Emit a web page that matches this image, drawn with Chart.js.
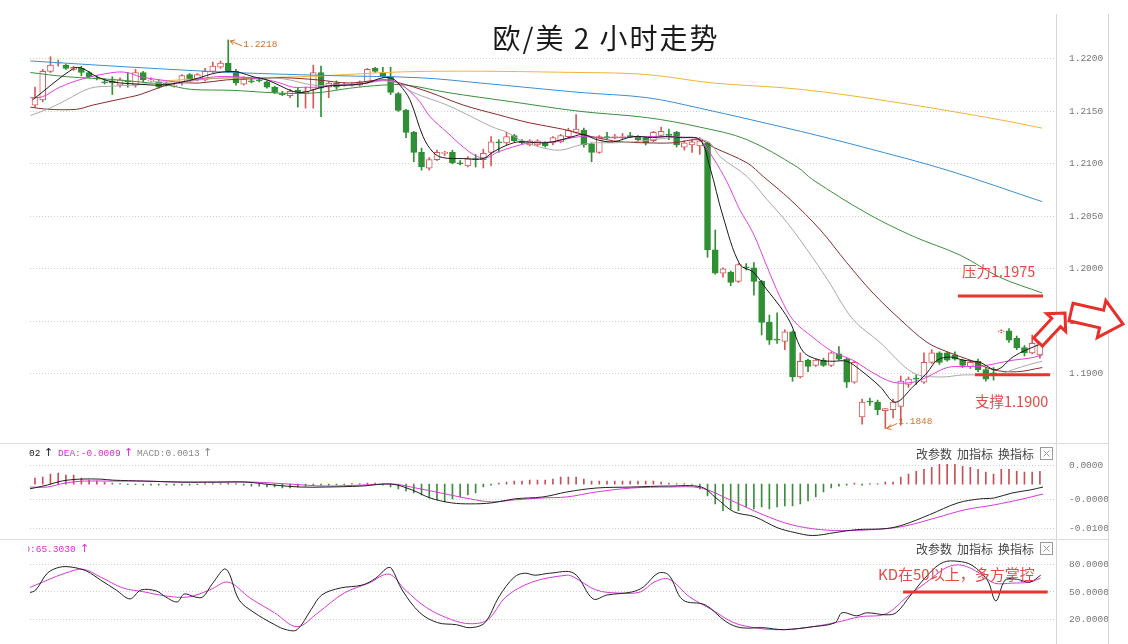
<!DOCTYPE html>
<html>
<head>
<meta charset="utf-8">
<script src="https://cdn.jsdelivr.net/npm/chart.js@4.4.1/dist/chart.umd.min.js"></script>
<style>
  body { margin: 0; background: #fff; width: 1128px; height: 644px; overflow: hidden; position: relative; }
  canvas { position: absolute; left: 0; }
</style>
</head>
<body>
<canvas id="main" width="1128" height="443" style="top:0"></canvas>
<canvas id="macd" width="1128" height="96" style="top:443px"></canvas>
<canvas id="kd" width="1128" height="105" style="top:539px"></canvas>
<script>
// ---- data (2h EUR/USD) ----
var candleOpen = [
  1.2156,1.2161,1.2188,1.2196,1.2194,1.2190,1.2191,1.2187,1.2182,1.2178,
  1.2179,1.2175,1.2179,1.2175,1.2187,1.2179,1.2178,1.2177,1.2174,1.2177,
  1.2185,1.2180,1.2180,1.2188,1.2192,1.2196,1.2188,1.2176,1.2179,1.2180,
  1.2178,1.2173,1.2167,1.2165,1.2170,1.2167,1.2171,1.2187,1.2173,1.2177,
  1.2175,1.2175,1.2175,1.2178,1.2191,1.2187,1.2183,1.2167,1.2151,1.2130,
  1.2111,1.2096,1.2104,1.2110,1.2111,1.2101,1.2098,1.2105,1.2104,1.2111,
  1.2121,1.2120,1.2127,1.2122,1.2118,1.2118,1.2120,1.2120,1.2121,1.2126,
  1.2130,1.2132,1.2119,1.2111,1.2126,1.2125,1.2125,1.2127,1.2126,1.2125,
  1.2122,1.2127,1.2128,1.2130,1.2116,1.2118,1.2117,1.2120,1.2018,1.1996,
  1.1997,1.1988,1.2002,1.2001,1.1988,1.1949,1.1933,1.1931,1.1940,1.1897,
  1.1913,1.1908,1.1913,1.1908,1.1919,1.1914,1.1892,1.1859,1.1874,1.1873,
  1.1865,1.1866,1.1869,1.1890,1.1896,1.1892,1.1911,1.1920,1.1920,1.1918,
  1.1913,1.1907,1.1912,1.1904,1.1901,1.1940,1.1941,1.1934,1.1925,1.1920,1.1918
];
var candleHigh = [
  1.2173,1.2190,1.2202,1.2199,1.2195,1.2193,1.2193,1.2188,1.2184,1.2181,
  1.2183,1.2182,1.2187,1.2190,1.2188,1.2182,1.2180,1.2178,1.2177,1.2185,
  1.2186,1.2186,1.2191,1.2197,1.2198,1.2218,1.2190,1.2183,1.2181,1.2182,
  1.2179,1.2174,1.2169,1.2171,1.2172,1.2173,1.2194,1.2193,1.2178,1.2179,
  1.2177,1.2177,1.2179,1.2191,1.2192,1.2192,1.2192,1.2168,1.2152,1.2131,
  1.2115,1.2106,1.2113,1.2112,1.2113,1.2103,1.2107,1.2109,1.2114,1.2126,
  1.2123,1.2130,1.2128,1.2123,1.2123,1.2123,1.2121,1.2126,1.2128,1.2134,
  1.2147,1.2134,1.2120,1.2127,1.2130,1.2128,1.2129,1.2130,1.2127,1.2126,
  1.2131,1.2135,1.2133,1.2131,1.2122,1.2123,1.2125,1.2121,1.2037,1.2001,
  1.1998,1.2005,1.2005,1.2006,1.1989,1.1956,1.1958,1.1942,1.1941,1.1920,
  1.1914,1.1914,1.1915,1.1921,1.1926,1.1915,1.1912,1.1876,1.1877,1.1875,
  1.1867,1.1876,1.1898,1.1897,1.1899,1.1920,1.1923,1.1921,1.1921,1.1921,
  1.1914,1.1913,1.1914,1.1906,1.1906,1.1942,1.1943,1.1936,1.1927,1.1937,1.1937
];
var candleLow = [
  1.2154,1.2159,1.2187,1.2193,1.2190,1.2189,1.2184,1.2182,1.2180,1.2176,
  1.2166,1.2173,1.2173,1.2173,1.2178,1.2178,1.2172,1.2174,1.2173,1.2175,
  1.2180,1.2179,1.2179,1.2187,1.2191,1.2187,1.2175,1.2175,1.2177,1.2178,
  1.2172,1.2167,1.2165,1.2163,1.2154,1.2153,1.2153,1.2145,1.2163,1.2171,
  1.2174,1.2174,1.2174,1.2177,1.2187,1.2182,1.2166,1.2150,1.2125,1.2102,
  1.2094,1.2094,1.2103,1.2108,1.2100,1.2099,1.2097,1.2097,1.2096,1.2098,
  1.2111,1.2118,1.2121,1.2119,1.2117,1.2117,1.2116,1.2118,1.2120,1.2125,
  1.2129,1.2116,1.2102,1.2110,1.2124,1.2124,1.2124,1.2125,1.2122,1.2118,
  1.2121,1.2126,1.2123,1.2116,1.2113,1.2111,1.2109,1.2011,1.1995,1.1992,
  1.1984,1.1987,1.1999,1.1975,1.1937,1.1928,1.1929,1.1923,1.1893,1.1896,
  1.1902,1.1907,1.1907,1.1907,1.1913,1.1887,1.1891,1.1852,1.1870,1.1861,
  1.1848,1.1858,1.1851,1.1887,1.1890,1.1891,1.1910,1.1909,1.1912,1.1913,
  1.1906,1.1905,1.1902,1.1893,1.1894,1.1939,1.1930,1.1923,1.1917,1.1919,1.1915
];
var candleClose = [
  1.2163,1.2188,1.2194,1.2197,1.2191,1.2192,1.2187,1.2183,1.2181,1.2177,
  1.2177,1.2180,1.2178,1.2187,1.2180,1.2180,1.2173,1.2175,1.2175,1.2184,
  1.2181,1.2185,1.2188,1.2193,1.2196,1.2188,1.2177,1.2181,1.2178,1.2179,
  1.2173,1.2168,1.2166,1.2169,1.2168,1.2169,1.2187,1.2172,1.2177,1.2173,
  1.2176,1.2176,1.2178,1.2190,1.2188,1.2183,1.2168,1.2151,1.2130,1.2111,
  1.2097,1.2104,1.2111,1.2111,1.2101,1.2100,1.2105,1.2104,1.2110,1.2121,
  1.2120,1.2126,1.2122,1.2120,1.2122,1.2122,1.2117,1.2125,1.2127,1.2132,
  1.2133,1.2118,1.2111,1.2126,1.2125,1.2126,1.2126,1.2126,1.2123,1.2120,
  1.2130,1.2131,1.2127,1.2118,1.2120,1.2121,1.2122,1.2018,1.1996,1.2000,
  1.1987,1.2004,1.2001,1.1988,1.1949,1.1932,1.1932,1.1940,1.1897,1.1912,
  1.1907,1.1913,1.1908,1.1920,1.1914,1.1892,1.1911,1.1873,1.1873,1.1866,
  1.1867,1.1873,1.1893,1.1895,1.1895,1.1911,1.1920,1.1911,1.1913,1.1914,
  1.1908,1.1911,1.1904,1.1895,1.1900,1.1941,1.1932,1.1925,1.1920,1.1929,1.1932
];

// moving averages as [bar index, price]
var maBlack = [[-0.3,1.2161],[5.0,1.2191],[6.1,1.2191],[8.0,1.2183],[10.1,1.2178],[13.2,1.2176],[16.2,1.2175],[18.4,1.2177],[21.3,1.2182],[23.0,1.2186],[25.2,1.2188],[26.5,1.2187],[28.2,1.2183],[30.0,1.2180],[32.1,1.2173],[33.4,1.2169],[34.7,1.2168],[36.2,1.2171],[37.8,1.2174],[40.4,1.2175],[42.9,1.2177],[45.0,1.2182],[46.3,1.2181],[47.2,1.2175],[48.5,1.2161],[50.2,1.2126],[51.5,1.2111],[52.7,1.2106],[55.4,1.2105],[58.0,1.2105],[59.2,1.2111],[61.1,1.2118],[62.7,1.2121],[65.3,1.2120],[67.0,1.2121],[69.6,1.2126],[70.9,1.2128],[72.7,1.2123],[74.8,1.2121],[77.4,1.2126],[79.9,1.2125],[81.8,1.2126],[83.4,1.2125],[86.0,1.2123],[87.3,1.2097],[89.0,1.2050],[91.2,1.2004],[92.9,1.1997],[94.7,1.1980],[96.4,1.1964],[97.7,1.1949],[99.4,1.1921],[101.6,1.1913],[103.2,1.1912],[105.0,1.1912],[106.7,1.1904],[109.3,1.1888],[111.3,1.1873],[113.6,1.1888],[115.4,1.1901],[116.7,1.1913],[118.4,1.1916],[120.1,1.1913],[122.2,1.1911],[124.4,1.1904],[126.5,1.1916],[128.3,1.1923],[130.3,1.1929]];
var maMagenta = [[-0.6,1.2163],[1.0,1.2164],[3.2,1.2173],[6.2,1.2181],[10.1,1.2187],[11.9,1.2187],[13.6,1.2183],[16.2,1.2180],[18.8,1.2178],[21.3,1.2181],[23.5,1.2183],[25.6,1.2183],[27.8,1.2182],[30.0,1.2180],[31.7,1.2177],[33.4,1.2173],[35.2,1.2173],[36.9,1.2173],[38.6,1.2175],[41.1,1.2175],[42.9,1.2177],[45.0,1.2180],[46.8,1.2178],[48.5,1.2169],[49.8,1.2159],[51.1,1.2145],[53.3,1.2130],[55.4,1.2116],[57.2,1.2107],[58.5,1.2106],[59.8,1.2111],[61.8,1.2116],[64.0,1.2120],[67.0,1.2121],[69.6,1.2125],[70.9,1.2126],[73.1,1.2125],[75.7,1.2125],[79.2,1.2126],[81.8,1.2126],[84.3,1.2125],[86.0,1.2123],[87.7,1.2106],[89.5,1.2083],[91.2,1.2056],[92.9,1.2034],[94.7,1.2002],[96.4,1.1973],[98.1,1.1951],[100.6,1.1935],[103.2,1.1921],[105.8,1.1913],[108.4,1.1901],[111.0,1.1892],[113.6,1.1892],[115.4,1.1897],[118.0,1.1906],[120.1,1.1907],[122.2,1.1907],[124.4,1.1910],[126.5,1.1913],[128.7,1.1915],[130.3,1.1918]];
var maGray = [[-0.6,1.2146],[1.9,1.2153],[4.1,1.2161],[7.1,1.2172],[10.1,1.2174],[12.7,1.2175],[15.8,1.2177],[18.8,1.2177],[21.3,1.2180],[24.8,1.2182],[28.2,1.2182],[32.1,1.2181],[36.0,1.2175],[38.6,1.2175],[42.9,1.2177],[45.0,1.2179],[46.8,1.2177],[48.9,1.2168],[53.3,1.2156],[56.7,1.2144],[59.2,1.2135],[61.1,1.2130],[62.7,1.2123],[65.3,1.2116],[67.9,1.2113],[70.5,1.2118],[72.2,1.2120],[74.8,1.2120],[77.4,1.2121],[79.9,1.2123],[82.5,1.2125],[85.1,1.2125],[87.3,1.2120],[88.6,1.2107],[92.1,1.2088],[94.7,1.2066],[97.3,1.2044],[99.9,1.2018],[102.5,1.1990],[105.8,1.1952],[109.3,1.1930],[113.6,1.1901],[117.1,1.1897],[120.1,1.1899],[124.4,1.1899],[126.5,1.1904],[128.7,1.1909],[130.3,1.1912]];
var maMaroon = [[-0.6,1.2154],[1.6,1.2152],[5.4,1.2152],[7.5,1.2156],[10.6,1.2161],[13.6,1.2166],[16.2,1.2173],[18.4,1.2177],[21.3,1.2177],[24.8,1.2180],[28.2,1.2181],[32.1,1.2182],[36.5,1.2180],[40.7,1.2177],[45.0,1.2180],[47.2,1.2177],[51.1,1.2168],[55.4,1.2156],[59.8,1.2147],[64.0,1.2139],[68.3,1.2133],[71.4,1.2127],[74.0,1.2123],[75.7,1.2121],[79.2,1.2120],[82.5,1.2120],[86.0,1.2123],[87.7,1.2116],[92.1,1.2101],[94.2,1.2088],[97.7,1.2066],[101.6,1.2037],[105.0,1.2006],[108.4,1.1977],[111.9,1.1952],[115.4,1.1930],[118.0,1.1921],[121.0,1.1913],[123.9,1.1904],[127.0,1.1902],[130.3,1.1906]];
var maGreen = [[-0.6,1.2187],[4.1,1.2183],[10.6,1.2180],[17.1,1.2175],[20.1,1.2171],[25.6,1.2170],[30.0,1.2168],[33.4,1.2167],[36.9,1.2168],[40.7,1.2172],[45.0,1.2175],[48.1,1.2175],[53.3,1.2168],[61.8,1.2159],[70.5,1.2150],[79.2,1.2144],[86.0,1.2135],[92.1,1.2123],[98.6,1.2097],[100.6,1.2085],[107.6,1.2053],[113.6,1.2031],[119.7,1.2013],[124.8,1.1992],[130.3,1.1977]];
var maBlue = [[-0.6,1.2198],[12.7,1.2192],[25.6,1.2187],[38.6,1.2184],[49.8,1.2182],[57.6,1.2177],[70.5,1.2168],[79.2,1.2163],[86.0,1.2153],[99.0,1.2131],[107.1,1.2116],[118.0,1.2094],[130.3,1.2064]];
var maOrange = [[14.9,1.2178],[21.3,1.2181],[34.3,1.2183],[49.8,1.2188],[70.5,1.2187],[79.2,1.2185],[87.7,1.2177],[99.0,1.2171],[111.9,1.2158],[124.8,1.2142],[130.3,1.2134]];

var priceTicks = [1.1900, 1.1950, 1.2000, 1.2050, 1.2100, 1.2150, 1.2200];
var pressureLevel = 1.1975;
var supportLevel = 1.1900;

// MACD panel
var macdHist = [
  0.0012,0.0014,0.0020,0.0022,0.0018,0.0018,0.0012,0.0008,0.0006,0.0004,0.0002,
  0.0001,-0.0001,-0.0001,-0.0002,-0.0002,-0.0002,-0.0002,-0.0002,-0.0002,-0.0002,
  -0.0001,0.0001,0.0001,0.0001,0.0002,0.0001,-0.0002,-0.0004,-0.0004,-0.0006,
  -0.0006,-0.0008,-0.0008,-0.0006,-0.0004,-0.0002,-0.0002,-0.0002,-0.0001,-0.0001,
  0.0001,0.0001,0.0002,0.0002,-0.0002,-0.0006,-0.0010,-0.0014,
  -0.0018,-0.0022,-0.0028,-0.0032,-0.0036,-0.0030,-0.0026,-0.0022,-0.0018,-0.0006,-0.0002,
  0.0002,0.0004,0.0006,0.0006,0.0008,0.0008,0.0008,0.0010,
  0.0014,0.0014,0.0014,0.0010,0.0006,0.0006,0.0006,0.0006,0.0006,0.0006,0.0006,0.0006,0.0006,0.0004,0.0002,0.0001,0.0001,0,
  -0.0010,-0.0024,-0.0040,-0.0054,-0.0050,-0.0054,-0.0046,-0.0050,-0.0046,-0.0050,-0.0046,-0.0044,-0.0044,-0.0040,-0.0034,-0.0026,-0.0016,-0.0008,-0.0004,-0.0002,0.0002,-0.0002,0.0001,
  0.0001,0.0004,0.0004,0.0014,0.0020,0.0026,0.0030,0.0034,0.0040,0.0040,0.0040,0.0036,0.0034,0.0030,0.0024,0.0020,0.0030,0.0030,0.0026,0.0024,0.0024,0.0026
];
var macdDif = [[-0.8,-0.0010],[1.6,-0.0002],[3.4,0.0006],[5.8,0.0010],[8.5,0.0010],[10.0,0.0008],[14.2,0.0006],[18.9,0.0004],[23.5,0.0004],[27.3,0.0004],[31.0,-0.0002],[34.3,-0.0006],[37.6,-0.0006],[42.3,-0.0004],[46.1,0.0000],[48.8,-0.0012],[51.1,-0.0028],[53.9,-0.0038],[56.3,-0.0040],[59.1,-0.0038],[62.0,-0.0030],[65.7,-0.0026],[68.8,-0.0016],[72.6,-0.0008],[77.2,-0.0006],[82.0,-0.0004],[86.2,-0.0006],[88.1,-0.0028],[90.4,-0.0056],[93.1,-0.0066],[96.0,-0.0088],[98.3,-0.0098],[100.6,-0.0104],[103.5,-0.0098],[106.3,-0.0092],[110.1,-0.0090],[112.4,-0.0082],[115.7,-0.0062],[119.4,-0.0038],[122.2,-0.0030],[124.1,-0.0028],[126.4,-0.0018],[128.7,-0.0012],[130.4,-0.0006]];
var macdDea = [[-0.8,-0.0006],[1.6,-0.0006],[3.9,0.0002],[6.2,0.0006],[9.6,0.0006],[14.2,0.0006],[18.9,0.0004],[23.5,0.0004],[28.2,0.0004],[32.9,0.0000],[37.6,-0.0004],[42.3,-0.0002],[46.4,0.0000],[49.3,-0.0008],[52.5,-0.0018],[56.3,-0.0030],[59.1,-0.0036],[62.0,-0.0032],[65.7,-0.0028],[68.8,-0.0026],[72.6,-0.0016],[77.2,-0.0008],[82.0,-0.0006],[86.2,-0.0008],[89.9,-0.0032],[94.2,-0.0062],[97.8,-0.0082],[101.6,-0.0092],[105.3,-0.0094],[110.1,-0.0090],[112.8,-0.0084],[116.6,-0.0068],[120.3,-0.0052],[124.1,-0.0042],[127.8,-0.0030],[130.4,-0.0020]];
var macdTickValues = [0.0038, -0.0032, -0.0090];
var macdTickLabels = ['0.0000', '-0.0000', '-0.0100'];

// KD panel
var kdK = [[-0.8,48.9],[0.1,52.2],[1.6,70.7],[3.2,77.3],[4.8,77.3],[6.7,72.9],[8.5,63.1],[10.5,52.2],[12.3,42.4],[13.7,52.2],[15.7,51.1],[16.9,44.5],[18.4,39.1],[19.3,47.8],[20.7,44.5],[21.7,44.5],[23.0,59.8],[24.7,75.1],[26.4,41.3],[28.2,28.2],[31.0,14.0],[32.5,8.5],[33.9,8.5],[35.7,30.4],[37.1,46.7],[39.5,54.4],[42.3,57.6],[44.1,65.3],[45.5,76.2],[46.1,76.2],[47.5,52.2],[49.8,27.1],[52.1,16.2],[54.5,14.0],[56.3,10.7],[58.2,16.2],[60.0,44.5],[62.0,66.4],[63.3,70.7],[64.7,68.5],[66.6,70.7],[69.7,70.7],[72.2,42.4],[74.0,46.7],[77.2,50.0],[78.7,55.5],[80.6,70.7],[82.0,68.5],[83.8,41.3],[86.7,35.8],[89.4,17.3],[91.3,10.7],[94.2,10.7],[96.9,8.5],[100.6,11.8],[103.5,16.2],[104.4,27.1],[106.3,23.8],[107.6,27.1],[110.1,24.9],[111.4,27.1],[113.3,46.7],[115.7,70.7],[117.5,82.7],[119.4,83.8],[121.2,79.5],[123.2,63.1],[124.3,40.2],[125.5,63.1],[126.9,64.2],[128.7,60.9],[130.1,68.5]];
var kdD = [[-0.8,54.4],[1.6,63.1],[3.9,70.7],[6.2,75.1],[8.5,66.4],[11.4,54.4],[14.2,50.0],[16.9,45.6],[19.8,44.5],[22.6,52.2],[25.0,60.9],[27.8,43.5],[31.0,27.1],[33.9,11.8],[36.6,27.1],[40.0,48.9],[43.2,59.8],[45.8,69.6],[47.9,52.2],[50.7,32.5],[53.9,19.5],[56.3,15.1],[58.6,19.5],[60.9,44.5],[64.3,60.9],[68.8,68.5],[69.7,66.4],[72.6,52.2],[75.4,48.9],[78.3,50.0],[80.1,60.9],[82.0,64.2],[84.7,44.5],[87.6,30.4],[90.4,16.2],[93.1,10.7],[96.0,8.5],[99.7,10.7],[103.5,16.2],[106.7,22.7],[110.1,26.0],[112.8,44.5],[115.7,63.1],[118.0,77.3],[119.9,79.5],[122.2,70.7],[124.1,59.8],[126.4,59.8],[128.7,60.9],[130.1,65.3]];
var kdTickValues = [80, 50, 20];

// ---- styles ----
var RED = '#d65a5a', GREEN = '#2f8f34';
var MONO = '"Liberation Mono", "DejaVu Sans Mono", monospace';
var CJK = '"Noto Sans CJK SC", sans-serif';
var X_MIN = -0.647, X_MAX = 132.08;

function pts(arr) {
  return arr.map(function (p) { return { x: p[0], y: p[1] }; });
}
function lineSet(arr, color, order) {
  return { type: 'line', data: pts(arr), borderColor: color, borderWidth: 1,
           pointRadius: 0, tension: 0.35, order: order || 0 };
}
function rightAxis(extra) {
  var ax = {
    position: 'right',
    grid: { color: '#cfcfcf', lineWidth: 1, drawTicks: false },
    border: { display: false, dash: [1, 2] },
    ticks: { color: '#777', padding: 13, font: { family: MONO, size: 9.5 } },
    afterFit: function (s) { s.width = 72; s.paddingTop = 0; s.paddingBottom = 0; }
  };
  return Object.assign(ax, extra);
}
function xAxis() {
  return { type: 'linear', min: X_MIN, max: X_MAX, offset: false, display: false };
}
function frameLines(ctx, h, top) {
  ctx.strokeStyle = '#d6d6d6';
  ctx.lineWidth = 1;
  ctx.beginPath();
  ctx.moveTo(1056.5, top || 0); ctx.lineTo(1056.5, h);
  ctx.moveTo(1108.5, top || 0); ctx.lineTo(1108.5, h);
  ctx.stroke();
}
function blockArrow(ctx, x1, y1, x2, y2, shaft, head, headLen) {
  var a = Math.atan2(y2 - y1, x2 - x1), L = Math.hypot(x2 - x1, y2 - y1);
  ctx.save();
  ctx.translate(x1, y1); ctx.rotate(a);
  ctx.beginPath();
  ctx.moveTo(0, -shaft); ctx.lineTo(L - headLen, -shaft); ctx.lineTo(L - headLen, -head);
  ctx.lineTo(L, 0); ctx.lineTo(L - headLen, head); ctx.lineTo(L - headLen, shaft);
  ctx.lineTo(0, shaft); ctx.closePath();
  ctx.fillStyle = '#fff'; ctx.fill();
  ctx.strokeStyle = '#e8302a'; ctx.lineWidth = 3; ctx.lineJoin = 'miter'; ctx.stroke();
  ctx.restore();
}
function panelButtons(ctx, y) {
  ctx.font = '12px ' + CJK; ctx.fillStyle = '#444'; ctx.textAlign = 'left'; ctx.textBaseline = 'middle';
  ctx.fillText('改参数', 916, y); ctx.fillText('加指标', 957, y); ctx.fillText('换指标', 998, y);
  ctx.strokeStyle = '#999'; ctx.lineWidth = 1;
  ctx.strokeRect(1040.5, y - 6.5, 12, 12);
  ctx.beginPath();
  ctx.moveTo(1043.5, y - 3.5); ctx.lineTo(1049.5, y + 2.5);
  ctx.moveTo(1049.5, y - 3.5); ctx.lineTo(1043.5, y + 2.5);
  ctx.stroke();
}

// ---- main price panel ----
var mainDecor = {
  id: 'mainDecor',
  afterDraw: function (chart) {
    var ctx = chart.ctx, xs = chart.scales.x, ys = chart.scales.y;
    ctx.save();
    frameLines(ctx, chart.height, 14);
    ctx.fillStyle = '#1a1a1a'; ctx.font = '28px ' + CJK;
    ctx.letterSpacing = '2px';
    ctx.textAlign = 'center'; ctx.textBaseline = 'middle';
    ctx.fillText('欧/美 2 小时走势', 606, 38);
    ctx.letterSpacing = '0px';

    // high / low markers
    var hiIdx = candleHigh.indexOf(Math.max.apply(null, candleHigh));
    var loIdx = candleLow.indexOf(Math.min.apply(null, candleLow));
    var orange = '#d8702e';
    ctx.strokeStyle = orange; ctx.fillStyle = orange; ctx.lineWidth = 1;
    var hx = xs.getPixelForValue(hiIdx), hy = ys.getPixelForValue(candleHigh[hiIdx]);
    ctx.beginPath(); ctx.moveTo(hx + 2, hy + 1); ctx.lineTo(hx + 14, hy + 6); ctx.stroke();
    ctx.beginPath(); ctx.moveTo(hx + 2, hy + 1); ctx.lineTo(hx + 7, hy); ctx.moveTo(hx + 2, hy + 1); ctx.lineTo(hx + 5, hy + 5); ctx.stroke();
    ctx.font = '9.5px ' + MONO; ctx.textAlign = 'left';
    ctx.fillText(candleHigh[hiIdx].toFixed(4), hx + 15, hy + 5);
    var lx = xs.getPixelForValue(loIdx), ly = ys.getPixelForValue(candleLow[loIdx]);
    ctx.beginPath(); ctx.moveTo(lx + 1, ly); ctx.lineTo(lx + 12, ly - 5); ctx.stroke();
    ctx.beginPath(); ctx.moveTo(lx + 1, ly); ctx.lineTo(lx + 6, ly - 4); ctx.moveTo(lx + 1, ly); ctx.lineTo(lx + 6, ly + 1); ctx.stroke();
    ctx.fillText(candleLow[loIdx].toFixed(4), lx + 13, ly - 7);

    // pressure & support
    ctx.strokeStyle = '#e8342e'; ctx.lineWidth = 3;
    var py = ys.getPixelForValue(pressureLevel), sy = ys.getPixelForValue(supportLevel);
    ctx.beginPath();
    ctx.moveTo(xs.getPixelForValue(119.4), py + 1); ctx.lineTo(xs.getPixelForValue(130.4), py + 1);
    ctx.moveTo(xs.getPixelForValue(121.6), sy + 1); ctx.lineTo(xs.getPixelForValue(131.3), sy + 1);
    ctx.stroke();
    ctx.fillStyle = '#e64a46'; ctx.font = '14.5px ' + CJK; ctx.textBaseline = 'middle';
    ctx.fillText('压力' + pressureLevel.toFixed(4), 962, py - 24);
    ctx.fillText('支撑' + supportLevel.toFixed(4), 975, sy + 28);

    blockArrow(ctx, 1038, 342, 1065, 313, 6, 13, 13);
    blockArrow(ctx, 1071, 312, 1123, 324, 9, 19, 22);
    ctx.restore();
  }
};

var mainChart = new Chart(document.getElementById('main'), {
  type: 'bar',
  data: {
    datasets: [
      lineSet(maBlack, '#1a1a1a', 0),
      lineSet(maMagenta, '#e040e0', 0),
      lineSet(maGray, '#a9a9a9', 0),
      lineSet(maMaroon, '#8a2c2c', 0),
      lineSet(maGreen, '#3c8f3c', 0),
      lineSet(maBlue, '#3a8fd6', 0),
      lineSet(maOrange, '#f0b43c', 0),
      {
        data: candleOpen.map(function (o, i) { return { x: i, y: [o, candleClose[i]] }; }),
        backgroundColor: candleOpen.map(function (o, i) { return candleClose[i] >= o ? '#fff' : GREEN; }),
        borderColor: candleOpen.map(function (o, i) { return candleClose[i] >= o ? RED : GREEN; }),
        borderWidth: 1, borderSkipped: false, barThickness: 6, minBarLength: 1, grouped: false, order: 1
      },
      {
        data: candleLow.map(function (l, i) { return { x: i, y: [l, candleHigh[i]] }; }),
        backgroundColor: candleOpen.map(function (o, i) { return candleClose[i] >= o ? RED : GREEN; }),
        borderWidth: 0, barThickness: 1, grouped: false, order: 2
      }
    ]
  },
  options: {
    responsive: false, animation: false,
    layout: { padding: { left: 30, right: 0, top: 20, bottom: 3 } },
    plugins: { legend: { display: false }, tooltip: { enabled: false } },
    scales: {
      x: xAxis(),
      y: rightAxis({
        min: 1.1837, max: 1.2237,
        afterBuildTicks: function (s) { s.ticks = priceTicks.map(function (v) { return { value: v }; }); }
      })
    }
  },
  plugins: [mainDecor]
});
mainChart.options.scales.y.ticks.callback = function (v) { return Number(v).toFixed(4); };
mainChart.update();

// ---- MACD panel ----
var macdDecor = {
  id: 'macdDecor',
  afterDraw: function (chart) {
    var ctx = chart.ctx;
    ctx.save();
    frameLines(ctx, chart.height);
    ctx.strokeStyle = '#dcdcdc'; ctx.lineWidth = 1;
    ctx.beginPath(); ctx.moveTo(0, 0.5); ctx.lineTo(1108, 0.5); ctx.stroke();
    ctx.font = '9.5px ' + MONO; ctx.textAlign = 'left'; ctx.textBaseline = 'middle';
    ctx.fillStyle = '#222'; ctx.fillText('02', 29, 10);
    ctx.fillStyle = '#d42ed4'; ctx.fillText('DEA:-0.0009', 58, 10);
    ctx.fillStyle = '#888'; ctx.fillText('MACD:0.0013', 137, 10);
    ctx.font = '11px "DejaVu Sans"';
    ctx.fillStyle = '#222'; ctx.fillText('↑', 44, 10);
    ctx.fillStyle = '#d42ed4'; ctx.fillText('↑', 124, 10);
    ctx.fillStyle = '#888'; ctx.fillText('↑', 203, 10);
    panelButtons(ctx, 11);
    ctx.restore();
  }
};

var macdChart = new Chart(document.getElementById('macd'), {
  type: 'bar',
  data: {
    datasets: [
      lineSet(macdDif, '#222', 0),
      lineSet(macdDea, '#d63ad6', 0),
      {
        data: macdHist.map(function (v, i) { return { x: i, y: v }; }),
        backgroundColor: macdHist.map(function (v) { return v >= 0 ? '#c4505a' : '#3d8c3d'; }),
        borderWidth: 0, barThickness: 1, grouped: false, order: 1
      }
    ]
  },
  options: {
    responsive: false, animation: false,
    layout: { padding: { left: 30, right: 0, top: 0, bottom: 0 } },
    plugins: { legend: { display: false }, tooltip: { enabled: false } },
    scales: {
      x: xAxis(),
      y: rightAxis({
        min: -0.011, max: 0.0082,
        afterBuildTicks: function (s) { s.ticks = macdTickValues.map(function (v) { return { value: v }; }); }
      })
    }
  },
  plugins: [macdDecor]
});
macdChart.options.scales.y.ticks.callback = function (v, i) { return macdTickLabels[i]; };
macdChart.update();

// ---- KD panel ----
var kdDecor = {
  id: 'kdDecor',
  afterDraw: function (chart) {
    var ctx = chart.ctx, xs = chart.scales.x, ys = chart.scales.y;
    ctx.save();
    frameLines(ctx, chart.height);
    ctx.strokeStyle = '#dcdcdc'; ctx.lineWidth = 1;
    ctx.beginPath(); ctx.moveTo(0, 0.5); ctx.lineTo(1108, 0.5); ctx.stroke();
    ctx.save();
    ctx.beginPath(); ctx.rect(28, 0, 200, 22); ctx.clip();
    ctx.font = '9.5px ' + MONO; ctx.textAlign = 'left'; ctx.textBaseline = 'middle';
    ctx.fillStyle = '#d42ed4';
    ctx.fillText('D:' + kdD[kdD.length - 1][1].toFixed(1) + '030', 24.3, 10);
    ctx.font = '11px "DejaVu Sans"'; ctx.fillText('↑', 80, 10);
    ctx.restore();
    panelButtons(ctx, 10);

    ctx.strokeStyle = '#e8342e'; ctx.lineWidth = 3;
    var y50 = ys.getPixelForValue(50);
    ctx.beginPath(); ctx.moveTo(xs.getPixelForValue(112.3), y50); ctx.lineTo(xs.getPixelForValue(131.0), y50); ctx.stroke();
    ctx.fillStyle = '#e64a46'; ctx.font = '15px ' + CJK; ctx.textAlign = 'left'; ctx.textBaseline = 'middle';
    ctx.fillText('KD在50以上，多方掌控', 878, 35);
    ctx.restore();
  }
};

var kdChart = new Chart(document.getElementById('kd'), {
  type: 'line',
  data: {
    datasets: [
      lineSet(kdK, '#222', 0),
      lineSet(kdD, '#d63ad6', 1)
    ]
  },
  options: {
    responsive: false, animation: false,
    layout: { padding: { left: 30, right: 0, top: 0, bottom: 0 } },
    plugins: { legend: { display: false }, tooltip: { enabled: false } },
    scales: {
      x: xAxis(),
      y: rightAxis({
        min: -6.7, max: 107.8,
        afterBuildTicks: function (s) { s.ticks = kdTickValues.map(function (v) { return { value: v }; }); }
      })
    }
  },
  plugins: [kdDecor]
});
kdChart.options.scales.y.ticks.callback = function (v) { return Number(v).toFixed(4); };
kdChart.update();
</script>
</body>
</html>
